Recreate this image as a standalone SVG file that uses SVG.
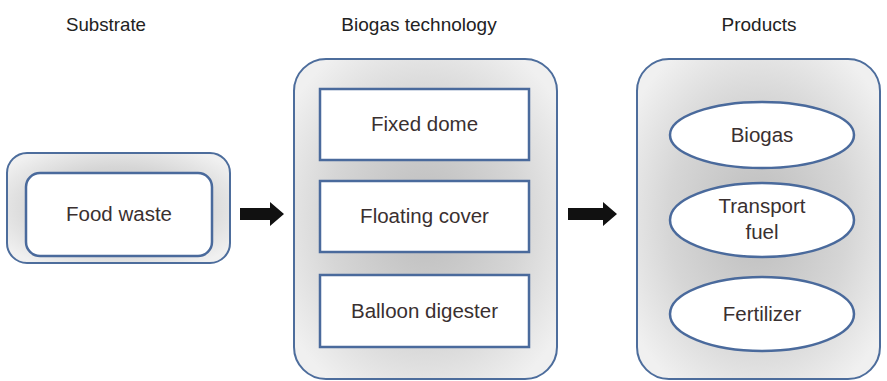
<svg xmlns="http://www.w3.org/2000/svg" width="887" height="381" viewBox="0 0 887 381">
<defs>
<radialGradient id="g" cx="50%" cy="50%" r="62%">
<stop offset="0" stop-color="#bcbcbc"/>
<stop offset="0.6" stop-color="#d6d6d6"/>
<stop offset="1" stop-color="#f0f0f0"/>
</radialGradient>
<style>
.outer{fill:url(#g);stroke:#4d6d9c;stroke-width:2}
.inner{fill:#fff;stroke:#4a6a9c;stroke-width:2.5}
text{font-family:"Liberation Sans",Arial,sans-serif;font-size:20.5px;fill:#3a3030;text-anchor:middle}
.h{font-size:19px;fill:#222}
.arrow{fill:#111}
</style>
</defs>
<rect width="887" height="381" fill="#fff"/>
<g id="headers">
<text class="h" x="106" y="31" textLength="80" lengthAdjust="spacingAndGlyphs">Substrate</text>
<text class="h" x="419" y="31">Biogas technology</text>
<text class="h" x="759" y="31">Products</text>
</g>
<g id="substrate">
<rect class="outer" x="7" y="153" width="223" height="110" rx="20"/>
<rect class="inner" x="26" y="173" width="186" height="83" rx="14"/>
<text x="119" y="221">Food waste</text>
</g>
<g id="technology">
<rect class="outer" x="294" y="59" width="263" height="320" rx="32"/>
<g id="fixed-dome"><rect class="inner" x="320" y="89" width="209" height="71"/><text x="424.5" y="131">Fixed dome</text></g>
<g id="floating-cover"><rect class="inner" x="320" y="181" width="209" height="71"/><text x="424.5" y="223">Floating cover</text></g>
<g id="balloon-digester"><rect class="inner" x="320" y="275" width="209" height="72"/><text x="424.5" y="318">Balloon digester</text></g>
</g>
<g id="products">
<rect class="outer" x="637" y="59" width="243" height="320" rx="32"/>
<g id="biogas"><ellipse class="inner" cx="762" cy="135" rx="92" ry="33"/><text x="762" y="142">Biogas</text></g>
<g id="transport-fuel"><ellipse class="inner" cx="762" cy="220" rx="92" ry="37"/><text x="762" y="213">Transport</text><text x="762" y="239">fuel</text></g>
<g id="fertilizer"><ellipse class="inner" cx="762" cy="314" rx="92" ry="37"/><text x="762" y="321">Fertilizer</text></g>
</g>
<g id="connectors">
<path class="arrow" d="M240,208 H270 V202 L284,214 L270,226 V220 H240 Z"/>
<path class="arrow" d="M568,208 H603 V202 L617,214 L603,226 V220 H568 Z"/>
</g>
</svg>
